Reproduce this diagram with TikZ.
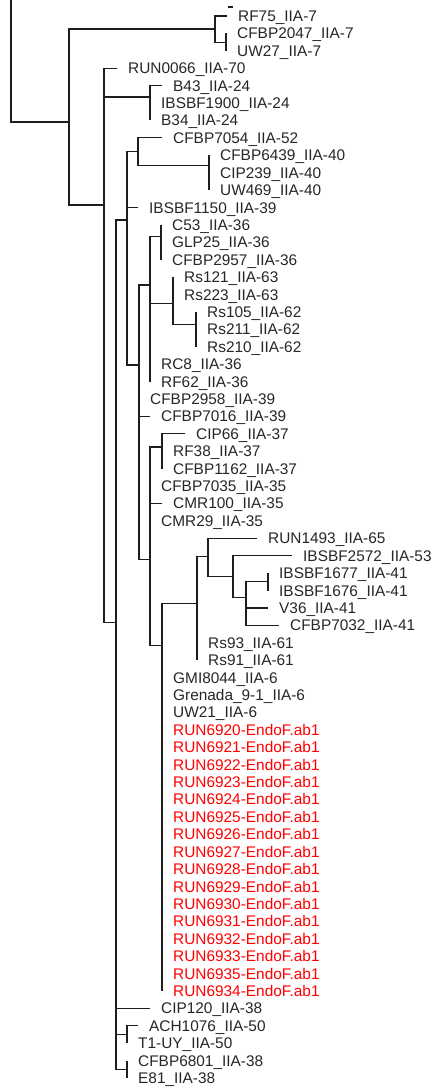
\documentclass[tikz,border=0pt]{standalone}
\usepackage{fontspec}
\setmainfont{Liberation Sans}
\definecolor{treeline}{RGB}{30,30,30}
\definecolor{leafgray}{RGB}{38,38,38}
\definecolor{runred}{RGB}{255,0,0}

\begin{document}
\begin{tikzpicture}[x=1pt,y=-17.41pt,
    br/.style={treeline,line width=1.2pt},
    leaf/.style={anchor=west,inner xsep=11pt,inner ysep=0pt,text height=11pt,text depth=0pt,
      font=\fontsize{15.4pt}{17pt}\selectfont,text=leafgray},
    newleaf/.style={leaf,text=runred}]
        \useasboundingbox (0,-0.919) rectangle (433,61.574);
        \coordinate (top) at (11,-0.92);
        \coordinate (nA) at (69,6.09);
        \coordinate (nP) at (215,0.75);
        \coordinate (nQ) at (226,1.5);
        \coordinate (nB) at (104,10.86);
        \coordinate (nS) at (150,4.65);
        \coordinate (nC) at (116,34.84);
        \coordinate (nD) at (127,11.72);
        \coordinate (nF) at (138,7.8);
        \coordinate (nR) at (209,8.6);
        \coordinate (nG) at (139,20.05);
        \coordinate (nH) at (150,15.45);
        \coordinate (nV) at (161,12.67);
        \coordinate (nW) at (173,16.5);
        \coordinate (nX) at (196,17.7);
        \coordinate (nI) at (150,31.23);
        \coordinate (nJ) at (162,24.75);
        \coordinate (nE) at (162,36.17);
        \coordinate (nK) at (197,33.76);
        \coordinate (nL) at (208,31.04);
        \coordinate (nM) at (233,32.2);
        \coordinate (nN) at (246,33.4);
        \coordinate (nO) at (268,32.5);
        \coordinate (nT) at (127,58.5);
        \coordinate (nU) at (127,60.5);

        \node[leaf] (RF75) at (227,0) {RF75\_IIA-7};
        \node[leaf] (CFBP2047) at (226,1) {CFBP2047\_IIA-7};
        \node[leaf] (UW27) at (226,2) {UW27\_IIA-7};
        \node[leaf] (RUN0066) at (117,3) {RUN0066\_IIA-70};
        \node[leaf] (B43) at (162,4) {B43\_IIA-24};
        \node[leaf] (IBSBF1900) at (150,5) {IBSBF1900\_IIA-24};
        \node[leaf] (B34) at (150,6) {B34\_IIA-24};
        \node[leaf] (CFBP7054) at (162,7) {CFBP7054\_IIA-52};
        \node[leaf] (CFBP6439) at (209,8) {CFBP6439\_IIA-40};
        \node[leaf] (CIP239) at (209,9) {CIP239\_IIA-40};
        \node[leaf] (UW469) at (209,10) {UW469\_IIA-40};
        \node[leaf] (IBSBF1150) at (138,11) {IBSBF1150\_IIA-39};
        \node[leaf] (C53) at (161,12) {C53\_IIA-36};
        \node[leaf] (GLP25) at (161,13) {GLP25\_IIA-36};
        \node[leaf] (CFBP2957) at (161,14) {CFBP2957\_IIA-36};
        \node[leaf] (Rs121) at (173,15) {Rs121\_IIA-63};
        \node[leaf] (Rs223) at (173,16) {Rs223\_IIA-63};
        \node[leaf] (Rs105) at (196,17) {Rs105\_IIA-62};
        \node[leaf] (Rs211) at (196,18) {Rs211\_IIA-62};
        \node[leaf] (Rs210) at (196,19) {Rs210\_IIA-62};
        \node[leaf] (RC8) at (150,20) {RC8\_IIA-36};
        \node[leaf] (RF62) at (150,21) {RF62\_IIA-36};
        \node[leaf] (CFBP2958) at (139,22) {CFBP2958\_IIA-39};
        \node[leaf] (CFBP7016) at (150,23) {CFBP7016\_IIA-39};
        \node[leaf] (CIP66) at (185,24) {CIP66\_IIA-37};
        \node[leaf] (RF38) at (162,25) {RF38\_IIA-37};
        \node[leaf] (CFBP1162) at (162,26) {CFBP1162\_IIA-37};
        \node[leaf] (CFBP7035) at (150,27) {CFBP7035\_IIA-35};
        \node[leaf] (CMR100) at (162,28) {CMR100\_IIA-35};
        \node[leaf] (CMR29) at (150,29) {CMR29\_IIA-35};
        \node[leaf] (RUN1493) at (257,30) {RUN1493\_IIA-65};
        \node[leaf] (IBSBF2572) at (292,31) {IBSBF2572\_IIA-53};
        \node[leaf] (IBSBF1677) at (268,32) {IBSBF1677\_IIA-41};
        \node[leaf] (IBSBF1676) at (268,33) {IBSBF1676\_IIA-41};
        \node[leaf] (V36) at (268,34) {V36\_IIA-41};
        \node[leaf] (CFBP7032) at (279,35) {CFBP7032\_IIA-41};
        \node[leaf] (Rs93) at (197,36) {Rs93\_IIA-61};
        \node[leaf] (Rs91) at (197,37) {Rs91\_IIA-61};
        \node[leaf] (GMI8044) at (162,38) {GMI8044\_IIA-6};
        \node[leaf] (Grenada) at (162,39) {Grenada\_9-1\_IIA-6};
        \node[leaf] (UW21) at (162,40) {UW21\_IIA-6};
        \foreach \n [count=\i from 41] in {6920,6921,6922,6923,6924,6925,6926,6927,6928,6929,6930,6931,6932,6933,6935,6934}{
            \node[newleaf] (R\n) at (162,\i) {RUN\n-EndoF.ab1};
            \draw[br] (nE) |- (R\n.west);}
        \node[leaf] (CIP120) at (150,57) {CIP120\_IIA-38};
        \node[leaf] (ACH1076) at (138,58) {ACH1076\_IIA-50};
        \node[leaf] (T1UY) at (127,59) {T1-UY\_IIA-50};
        \node[leaf] (CFBP6801) at (127,60) {CFBP6801\_IIA-38};
        \node[leaf] (E81) at (127,61) {E81\_IIA-38};

        \draw[br] (228,-0.52) -- (233,-0.52);
        \draw[br] (top) |- (nA);
        \draw[br] (nA) |- (nP) (nA) |- (nB);
        \draw[br] (nP) |- (RF75.west) (nP) |- (nQ);
        \foreach \c in {CFBP2047,UW27} \draw[br] (nQ) |- (\c.west);
        \draw[br] (nB) |- (RUN0066.west) (nB) |- (nS) (nB) |- (nC);
        \foreach \c in {B43,IBSBF1900,B34} \draw[br] (nS) |- (\c.west);
        \draw[br] (nC) |- (nD) (nC) |- (CIP120.west) (nC) |- (nT) (nC) |- (nU);
        \draw[br] (nD) |- (nF) (nD) |- (IBSBF1150.west) (nD) |- (nG);
        \draw[br] (nF) |- (CFBP7054.west) (nF) |- (nR);
        \foreach \c in {CFBP6439,CIP239,UW469} \draw[br] (nR) |- (\c.west);
        \draw[br] (nG) |- (nH) (nG) |- (CFBP2958.west) (nG) |- (CFBP7016.west) (nG) |- (nI);
        \draw[br] (nH) |- (nV) (nH) |- (nW) (nH) |- (RC8.west) (nH) |- (RF62.west);
        \foreach \c in {C53,GLP25,CFBP2957} \draw[br] (nV) |- (\c.west);
        \draw[br] (nW) |- (Rs121.west) (nW) |- (Rs223.west) (nW) |- (nX);
        \foreach \c in {Rs105,Rs211,Rs210} \draw[br] (nX) |- (\c.west);
        \draw[br] (nI) |- (nJ) (nI) |- (CFBP7035.west) (nI) |- (CMR100.west) (nI) |- (CMR29.west) (nI) |- (nE);
        \foreach \c in {CIP66,RF38,CFBP1162} \draw[br] (nJ) |- (\c.west);
        \draw[br] (nE) |- (nK);
        \foreach \c in {GMI8044,Grenada,UW21} \draw[br] (nE) |- (\c.west);
        \draw[br] (nK) |- (nL) (nK) |- (Rs93.west) (nK) |- (Rs91.west);
        \draw[br] (nL) |- (RUN1493.west) (nL) |- (nM);
        \draw[br] (nM) |- (IBSBF2572.west) (nM) |- (nN);
        \draw[br] (nN) |- (nO) (nN) |- (V36.west) (nN) |- (CFBP7032.west);
        \foreach \c in {IBSBF1677,IBSBF1676} \draw[br] (nO) |- (\c.west);
        \foreach \c in {ACH1076,T1UY} \draw[br] (nT) |- (\c.west);
        \foreach \c in {CFBP6801,E81} \draw[br] (nU) |- (\c.west);
      \end{tikzpicture}
\end{document}
